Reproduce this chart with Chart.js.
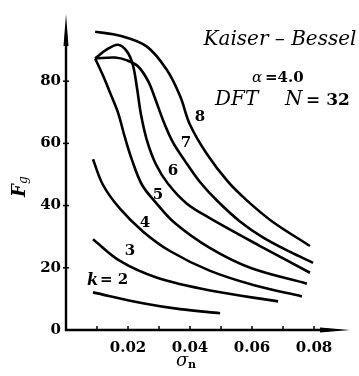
<!DOCTYPE html>
<html>
<head>
<meta charset="utf-8">
<script src="https://cdn.jsdelivr.net/npm/chart.js@4.4.1/dist/chart.umd.min.js"></script>
<style>
  html, body { margin: 0; padding: 0; background: #fff; }
  #wrap { width: 359px; height: 376px; }
</style>
</head>
<body>
<div id="wrap"><canvas id="myChart" width="359" height="376"></canvas></div>
<script>
// sigma_n / F_g pairs, one pair of arrays per curve k
const k2Sigma = [0.0087, 0.0248, 0.0368, 0.0497];
const k2F = [12.1, 8.6, 6.7, 5.4];
const k3Sigma = [0.0087, 0.0174, 0.0294, 0.0465, 0.0684];
const k3F = [29.2, 22.2, 16.8, 12.7, 9.2];
const k4Sigma = [0.0087, 0.0119, 0.0174, 0.0248, 0.0335, 0.0465, 0.061, 0.0761];
const k4F = [54.9, 46.7, 39.0, 31.7, 25.4, 19.0, 14.3, 10.8];
const k5Sigma = [0.0094, 0.0119, 0.0145, 0.0168, 0.019, 0.0213, 0.0245, 0.0287, 0.0352, 0.0465, 0.0594, 0.0777];
const k5F = [87.3, 81.9, 75.6, 69.8, 61.9, 54.6, 46.7, 41.3, 34.3, 26.3, 20.0, 14.9];
const k6Sigma = [0.0094, 0.0132, 0.0168, 0.0197, 0.0216, 0.0229, 0.0242, 0.0261, 0.029, 0.0329, 0.039, 0.0465, 0.0626, 0.0787];
const k6F = [87.3, 90.2, 91.7, 89.5, 85.1, 77.8, 69.2, 61.0, 53.3, 47.0, 40.6, 35.9, 27.0, 18.4];
const k7Sigma = [0.0094, 0.0158, 0.0197, 0.0232, 0.0265, 0.029, 0.0316, 0.0345, 0.0384, 0.0432, 0.049, 0.0561, 0.0635, 0.0723, 0.0797];
const k7F = [87.3, 87.6, 86.7, 84.8, 80.0, 73.7, 66.7, 60.3, 54.3, 47.6, 41.3, 34.9, 29.8, 25.1, 21.6];
const k8Sigma = [0.0094, 0.0174, 0.0261, 0.0326, 0.0368, 0.04, 0.0455, 0.0523, 0.0584, 0.0665, 0.0787];
const k8F = [95.9, 94.6, 91.1, 83.5, 75.2, 66.0, 56.5, 47.6, 41.6, 34.9, 27.0];

const curveSigmas = [k2Sigma, k3Sigma, k4Sigma, k5Sigma, k6Sigma, k7Sigma, k8Sigma];
const curveFs = [k2F, k3F, k4F, k5F, k6F, k7F, k8F];

// curve labels and where they sit (data units)
const curveLabels = ["k = 2", "3", "4", "5", "6", "7", "8"];
const labelSigma = [0.0129, 0.0206, 0.0255, 0.0297, 0.0345, 0.0387, 0.0432];
const labelF = [15.9, 25.4, 34.3, 43.5, 51.1, 60.0, 68.3];

const xTicks = [0.02, 0.04, 0.06, 0.08];
const xMinorTicks = [0.01, 0.03, 0.05, 0.07];
const yTicks = [0, 20, 40, 60, 80];

const serif = "'DejaVu Serif', 'Liberation Serif', serif";

const datasets = curveSigmas.map((sig, i) => ({
  label: curveLabels[i],
  data: sig.map((s, j) => ({ x: s, y: curveFs[i][j] })),
  showLine: true,
  borderColor: "#000",
  borderWidth: 2.6,
  pointRadius: 0,
  tension: 0.35,
  fill: false,
}));

const decor = {
  id: "decor",
  afterDraw(chart) {
    const { ctx, chartArea: a, scales } = chart;
    const xs = scales.x, ys = scales.y;
    ctx.save();
    ctx.fillStyle = "#000";
    ctx.strokeStyle = "#000";

    // axes
    ctx.lineWidth = 2.4;
    ctx.beginPath();
    ctx.moveTo(a.left, a.top + 20);
    ctx.lineTo(a.left, a.bottom);
    ctx.lineTo(a.right - 20, a.bottom);
    ctx.stroke();
    ctx.beginPath();
    ctx.moveTo(a.left, a.top);
    ctx.lineTo(a.left - 2.5, a.top + 32);
    ctx.lineTo(a.left + 2.5, a.top + 32);
    ctx.closePath();
    ctx.fill();
    ctx.beginPath();
    ctx.moveTo(a.right, a.bottom);
    ctx.lineTo(a.right - 30, a.bottom - 2.5);
    ctx.lineTo(a.right - 30, a.bottom + 2.5);
    ctx.closePath();
    ctx.fill();

    // tick marks
    ctx.lineWidth = 1.5;
    yTicks.forEach((v) => {
      if (v === 0) return;
      const y = ys.getPixelForValue(v);
      ctx.beginPath();
      ctx.moveTo(a.left - 3, y);
      ctx.lineTo(a.left + 3, y);
      ctx.stroke();
    });
    xTicks.concat(xMinorTicks).forEach((v) => {
      const x = xs.getPixelForValue(v);
      ctx.beginPath();
      ctx.moveTo(x, a.bottom);
      ctx.lineTo(x, a.bottom - 4);
      ctx.stroke();
    });

    // curve labels
    ctx.textAlign = "center";
    ctx.textBaseline = "middle";
    curveLabels.forEach((t, i) => {
      const x = xs.getPixelForValue(labelSigma[i]);
      const y = ys.getPixelForValue(labelF[i]);
      if (i === 0) {
        ctx.font = "bold italic 16px " + serif;
        ctx.textAlign = "left";
        ctx.fillText("k", x - 19, y);
        ctx.font = "bold 15px " + serif;
        ctx.fillText("= 2", x - 6, y);
        ctx.textAlign = "center";
      } else {
        ctx.font = "bold 15px " + serif;
        ctx.fillText(t, x, y);
      }
    });

    // heading text
    ctx.font = "italic 20px " + serif;
    ctx.fillText("Kaiser \u2013 Bessel", 280, 40);
    ctx.font = "italic 15px " + serif;
    ctx.textAlign = "left";
    ctx.fillText("\u03b1", 252, 78);
    ctx.font = "bold 15px " + serif;
    ctx.fillText("=4.0", 265, 78);
    ctx.font = "italic 20px " + serif;
    ctx.fillText("DFT", 215, 100);
    ctx.fillText("N", 285, 100);
    ctx.font = "bold 17px " + serif;
    ctx.fillText("= 32", 306, 101);

    // axis titles
    ctx.save();
    ctx.translate(20, 190);
    ctx.rotate(-Math.PI / 2);
    ctx.textAlign = "left";
    ctx.font = "bold italic 18px " + serif;
    ctx.fillText("F", -7, 0);
    ctx.font = "italic 12px " + serif;
    ctx.fillText("g", 6, 4);
    ctx.restore();
    ctx.textAlign = "left";
    ctx.font = "italic 18px " + serif;
    ctx.fillText("\u03c3", 176, 361);
    ctx.font = "bold 11px " + serif;
    ctx.fillText("n", 188, 365);

    ctx.restore();
  },
};

const ctx = document.getElementById("myChart").getContext("2d");
const myChart = new Chart(ctx, {
  type: "scatter",
  data: { datasets },
  options: {
    responsive: false,
    animation: false,
    layout: { padding: { top: 10, right: 9, left: 0, bottom: 0 } },
    plugins: { legend: { display: false }, tooltip: { enabled: false } },
    scales: {
      x: {
        type: "linear",
        min: 0,
        max: 0.0916,
        grid: { display: false, drawTicks: false },
        border: { display: false },
        afterBuildTicks: (scale) => {
          scale.ticks = xTicks.map((v) => ({ value: v }));
        },
        afterFit: (scale) => {
          scale.height = 46;
        },
        ticks: {
          padding: 9,
          color: "#000",
          font: { family: serif, size: 15, weight: "bold" },
          callback: (v) => v.toFixed(2),
        },
      },
      y: {
        type: "linear",
        min: 0,
        max: 101.6,
        grid: { display: false, drawTicks: false },
        border: { display: false },
        afterBuildTicks: (scale) => {
          scale.ticks = yTicks.map((v) => ({ value: v }));
        },
        afterFit: (scale) => {
          scale.width = 66;
        },
        ticks: {
          padding: 5,
          color: "#000",
          font: { family: serif, size: 15, weight: "bold" },
        },
      },
    },
  },
  plugins: [decor],
});
</script>
</body>
</html>
